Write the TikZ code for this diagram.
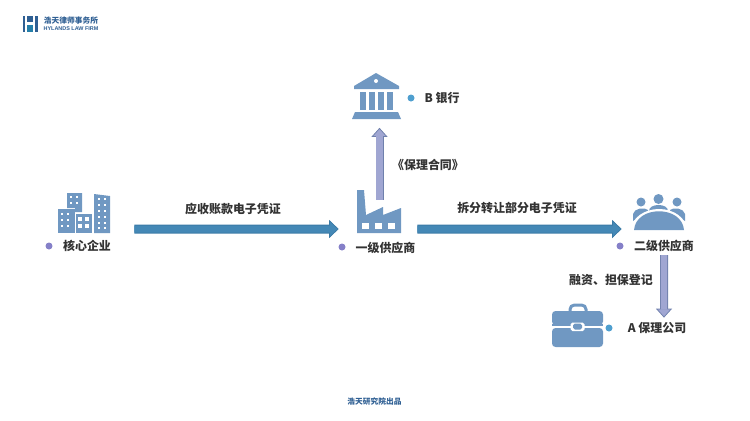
\documentclass[tikz,border=0pt]{standalone}
\usepackage{fontspec}
\usepackage{xcolor}
\setmainfont{Liberation Sans}
\newfontfamily\cjk{Noto Sans CJK SC}
\usetikzlibrary{arrows.meta}
\definecolor{iconBlue}{HTML}{7098C2}
\definecolor{pipeBlue}{HTML}{4488B6}
\definecolor{pipeEdge}{HTML}{3A7AA6}
\definecolor{pipePurple}{HTML}{A0A6D2}
\definecolor{purpleEdge}{HTML}{6F80AC}
\definecolor{dotPurple}{HTML}{8580C8}
\definecolor{dotBlue}{HTML}{4F9FCF}
\definecolor{logoBlue}{HTML}{2F5F93}
\tikzstyle{tsLabel} = [
    text=black!80,
    inner sep=0pt,
    font=\cjk\bfseries\fontsize{6.8}{8}\selectfont
]
\tikzstyle{tsBox} = [
    rectangle,
    inner sep=0pt
]
\tikzstyle{tsDot} = [
    circle,
    inner sep=0pt,
    minimum size=0.14cm
]
\tikzstyle{tsSmall} = [
    text=logoBlue,
    inner sep=0pt,
    font=\cjk\bfseries\fontsize{4.4}{5}\selectfont
]
\tikzstyle{tsPipeBlue} = [
    draw=pipeEdge,
    line width=0.18cm,
    -{Triangle[length=0.19cm,width=0.36cm,fill=pipeBlue,line width=0.015cm]},
    postaction={draw=pipeBlue, line width=0.14cm, -, shorten >=0.17cm}
]
\tikzstyle{tsPipePurple} = [
    draw=purpleEdge,
    line width=0.16cm,
    -{Triangle[length=0.18cm,width=0.32cm,fill=pipePurple,line width=0.015cm]},
    postaction={draw=pipePurple, line width=0.125cm, -, shorten >=0.16cm}
]
\begin{document}
\begin{tikzpicture}[x=0.02cm, y=-0.02cm]

        \useasboundingbox (0,0) rectangle (750,420);

        % Logo in the corner
        \node[tsBox, minimum width=0.3cm, minimum height=0.32cm] (logo) at (30,24) {};
        \fill[logoBlue] (22.5,16) rectangle (25,32);
        \fill[logoBlue] (35,16) rectangle (37.5,32);
        \fill[logoBlue] (27,16) rectangle (33,22);
        \fill[logoBlue!80!cyan] (27,25) rectangle (33,32);
        \node[tsSmall] (logoName) at (71,21) {浩天律师事务所};
        \node[tsSmall, font=\bfseries\fontsize{3.1}{4}\selectfont] (logoSub) at (71,29) {HYLANDS LAW FIRM};

        % Core enterprise buildings
        \node[tsBox, minimum width=1.04cm, minimum height=0.8cm] (coreIcon) at (84,213) {};
        \fill[iconBlue] (67,193) -- (82,193) -- (82,212) -- (75,212) -- (75,208) -- (67,208) -- cycle;
        \fill[iconBlue] (58,209) rectangle (75,233);
        \fill[iconBlue] (76,214) rectangle (92,233);
        \fill[iconBlue] (94,194) -- (110,196) -- (110,233) -- (94,233) -- cycle;
        \foreach \x in {71,77} \foreach \y in {197,203}
            \fill[white] (\x-1.4,\y-1.4) rectangle (\x+1.4,\y+1.4);
        \foreach \x in {62,68} \foreach \y in {214,220,226}
            \fill[white] (\x-1.4,\y-1.4) rectangle (\x+1.4,\y+1.4);
        \foreach \x in {80,87} \foreach \y in {219,226}
            \fill[white] (\x-1.6,\y-1.6) rectangle (\x+1.6,\y+1.6);
        \foreach \x in {99,105} \foreach \y in {199,205,211,217,223,228}
            \fill[white] (\x-1.3,\y-1.3) rectangle (\x+1.3,\y+1.3);
        \node[tsDot, fill=dotPurple] (coreDot) at (49,246) {};
        \node[tsLabel] (coreText) at (87,246) {核心企业};

        % Factory
        \node[tsBox, minimum width=0.88cm, minimum height=0.86cm] (firstIcon) at (379,211.5) {};
        \fill[iconBlue] (357,233) -- (357,190) -- (364,190) -- (366,215) -- (383,207) -- (383,215) -- (401,208) -- (401,233) -- cycle;
        \foreach \x in {362,375,388}
            \fill[white] (\x,223) rectangle (\x+7,229);
        \node[tsDot, fill=dotPurple] (firstDot) at (342,247) {};
        \node[tsLabel] (firstText) at (385.5,248) {一级供应商};

        % Bank
        \node[tsBox, minimum width=0.98cm, minimum height=0.94cm] (bankIcon) at (376,96) {};
        \fill[iconBlue] (376,73) -- (399,86) -- (399,89) -- (354,89) -- (354,86) -- cycle;
        \fill[white] (376,81) circle (2);
        \foreach \x in {363,372,381,390}
            \fill[iconBlue] (\x-3,91.5) rectangle (\x+3,110);
        \fill[iconBlue] (355,112) -- (398,112) -- (401,119) -- (352,119) -- cycle;
        \node[tsDot, fill=dotBlue] (bankDot) at (411,98) {};
        \node[tsLabel] (bankText) at (442,98) {B 银行};

        % Second tier supplier
        \node[tsBox, minimum width=1.04cm, minimum height=0.72cm] (secondIcon) at (659,212) {};
        \fill[iconBlue] (641,202) circle (4.5);
        \fill[iconBlue] (658.5,199) circle (5);
        \fill[iconBlue] (677,202) circle (4.5);
        \fill[iconBlue] (649,211) .. controls (649,203) and (668,203) .. (668,211) -- cycle;
        \fill[iconBlue] (633,221) -- (633,214) .. controls (634,208) and (645,207) .. (648,210) -- (648,213) -- cycle;
        \fill[iconBlue] (685,221) -- (685,214) .. controls (684,208) and (673,207) .. (670,210) -- (670,213) -- cycle;
        \fill[white] (630,233) .. controls (632,201) and (686,201) .. (688,233) -- cycle;
        \fill[iconBlue] (634,230) .. controls (636,205) and (682,205) .. (684,230) -- cycle;
        \node[tsDot, fill=dotPurple] (secondDot) at (620,246) {};
        \node[tsLabel] (secondText) at (664,246) {二级供应商};

        % Factoring company
        \node[tsBox, minimum width=1.02cm, minimum height=0.88cm] (factorIcon) at (577.5,325) {};
        \draw[iconBlue, line width=0.06cm, rounded corners=2.5] (570,312) -- (570,305) -- (586,305) -- (586,312);
        \fill[iconBlue, rounded corners=2] (552,325) -- (552,311) -- (603,311) -- (603,325) -- cycle;
        \fill[iconBlue, rounded corners=2] (552,328) -- (603,328) -- (603,347) -- (552,347) -- cycle;
        \fill[iconBlue] (552,324) rectangle (572,326);
        \fill[iconBlue] (583,324) rectangle (603,326);
        \fill[white, rounded corners=1] (570.5,322.5) rectangle (584.5,331);
        \fill[iconBlue, rounded corners=1] (573,323.5) rectangle (582,329.5);
        \node[tsDot, fill=dotBlue] (factorDot) at (609,328) {};
        \node[tsLabel] (factorText) at (657,328) {A 保理公司};

        % Connecting arrows between the parties
        \draw[tsPipeBlue] ([shift={(24,16)}]coreIcon.east) -- ([shift={(-18,17.5)}]firstIcon.west);
        \draw[tsPipeBlue] ([shift={(16,17.5)}]firstIcon.east) -- ([shift={(-11,17)}]secondIcon.west);
        \draw[tsPipePurple] ([shift={(0.5,10)}]firstIcon.north) -- ([shift={(3.5,8)}]bankIcon.south);
        \draw[tsPipePurple] ([shift={(0,3)}]secondText.south) -- ([shift={(86.5,15)}]factorIcon.north);

        % Arrow labels
        \node[tsLabel] (invoiceText) at (233,209) {应收账款电子凭证};
        \node[tsLabel] (splitText) at (517,208) {拆分转让部分电子凭证};
        \node[tsLabel] (contractText) at (428,165) {《保理合同》};
        \node[tsLabel] (loanText) at (611,280) {融资、担保登记};

        % Footer
        \node[tsSmall] (footer) at (374.5,402) {浩天研究院出品};

\end{tikzpicture}
\end{document}
